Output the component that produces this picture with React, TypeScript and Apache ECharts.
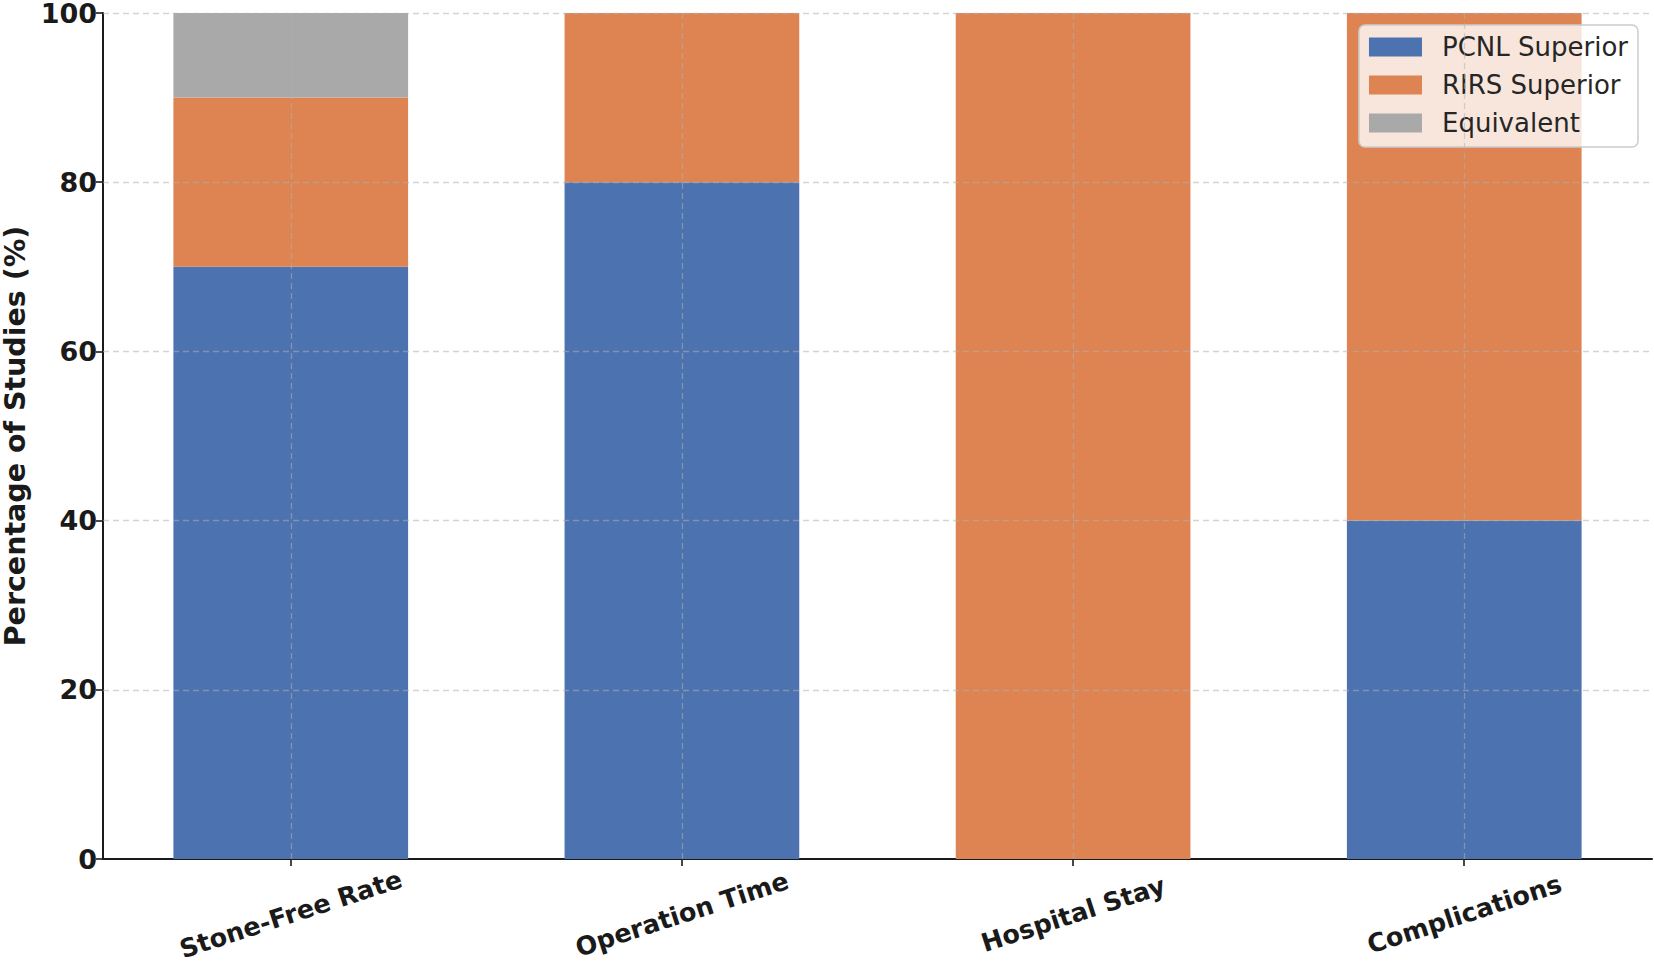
import React, { useEffect, useRef } from "react";
import * as echarts from "echarts";

const categories = ["Stone-Free Rate", "Operation Time", "Hospital Stay", "Complications"];
const pcnlSuperior = [70, 80, 0, 40];
const rirsSuperior = [20, 20, 100, 60];
const equivalent = [10, 0, 0, 0];
const yTicks = [0, 20, 40, 60, 80, 100];
const seriesNames = ["PCNL Superior", "RIRS Superior", "Equivalent"];
const colors = ["#4c72b0", "#dd8452", "#a9a9a9"];

const FONT = "DejaVu Sans";

// plot frame (matplotlib-like margins: bars of width 0.6, 5% margin)
const X_MIN = -0.48;
const X_MAX = 3.48;
const LEFT = 103;
const RIGHT = 2;
const TOP = 13;
const BOTTOM = 110;
const W = 1654;

export default function App() {
  const ref = useRef<HTMLDivElement>(null);

  useEffect(() => {
    if (!ref.current) return;
    const chart = echarts.init(ref.current, null, { renderer: "svg" });
    const idx = categories.map((_, i) => i);
    const unit = (W - LEFT - RIGHT) / (X_MAX - X_MIN);
    const barLeft = LEFT - (X_MIN + 0.5) * unit;
    const barRight = RIGHT - (categories.length - 0.5 - X_MAX) * unit;
    const gridStyle = { color: "rgba(176,176,176,0.55)", width: 1.3, type: [6, 4] as any };

    const seriesData = [pcnlSuperior, rirsSuperior, equivalent];
    const series: any[] = seriesData.map((arr, k) => ({
      name: seriesNames[k],
      type: "bar",
      stack: "total",
      barWidth: "60%",
      xAxisIndex: 0,
      yAxisIndex: 0,
      data: arr,
      itemStyle: { color: colors[k] },
      emphasis: { disabled: true },
    }));
    series.push({
      type: "line",
      name: "_grid",
      xAxisIndex: 1,
      yAxisIndex: 1,
      data: [],
      silent: true,
      showSymbol: false,
      markLine: {
        silent: true,
        symbol: "none",
        z: 5,
        label: { show: false },
        lineStyle: gridStyle,
        emphasis: { disabled: true },
        data: [
          ...idx.map((i) => ({ xAxis: i })),
          ...yTicks.filter((t) => t > 0).map((t) => ({ yAxis: t })),
        ],
      },
    });

    const axisCol = "#1a1a1a";

    chart.setOption({
      animation: false,
      textStyle: { fontFamily: FONT },
      grid: [
        { left: barLeft, right: barRight, top: TOP, bottom: BOTTOM, containLabel: false, outerBoundsMode: "none" },
        { left: LEFT, right: RIGHT, top: TOP, bottom: BOTTOM, containLabel: false, outerBoundsMode: "none" },
      ],
      legend: {
        data: seriesNames,
        orient: "vertical",
        right: 16,
        top: 25,
        icon: "rect",
        itemWidth: 53,
        itemHeight: 19,
        itemGap: 12,
        padding: [9, 10, 11, 10],
        backgroundColor: "rgba(255,255,255,0.8)",
        borderColor: "#cccccc",
        borderWidth: 1.5,
        borderRadius: 6,
        selectedMode: false,
        textStyle: {
          fontFamily: FONT,
          fontSize: 26,
          color: "#262626",
          padding: [0, 0, 0, 15],
        },
      },
      xAxis: [
        {
          type: "category",
          gridIndex: 0,
          data: categories,
          show: false,
        },
        {
          type: "value",
          gridIndex: 1,
          min: X_MIN,
          max: X_MAX,
          axisLine: { show: true, onZero: false, lineStyle: { color: axisCol, width: 2 } },
          axisTick: {
            show: true,
            customValues: idx,
            length: 7,
            lineStyle: { color: axisCol, width: 1.6 },
          },
          splitLine: { show: false },
          axisLabel: {
            customValues: idx,
            formatter: (v: number) => categories[Math.round(v)] ?? "",
            rotate: 18,
            align: "center",
            verticalAlign: "middle",
            margin: 55,
            fontFamily: FONT,
            fontSize: 25.5,
            fontWeight: "bold",
            color: axisCol,
          },
        },
      ],
      yAxis: [
        {
          type: "value",
          gridIndex: 0,
          min: 0,
          max: 100,
          show: false,
        },
        {
          type: "value",
          gridIndex: 1,
          min: 0,
          max: 100,
          interval: 20,
          name: "Percentage of Studies (%)",
          nameLocation: "middle",
          nameGap: 73,
          nameTextStyle: {
            fontFamily: FONT,
            fontSize: 28.5,
            fontWeight: "bold",
            color: axisCol,
          },
          axisLine: { show: true, onZero: false, lineStyle: { color: axisCol, width: 2 } },
          axisTick: { show: true, length: 7, lineStyle: { color: axisCol, width: 1.6 } },
          splitLine: { show: false },
          axisLabel: {
            margin: 6,
            fontFamily: FONT,
            fontSize: 27,
            fontWeight: "bold",
            color: axisCol,
          },
        },
      ],
      series,
    });
    return () => chart.dispose();
  }, []);

  return (
    <div
      ref={ref}
      style={{ position: "fixed", left: 0, top: 0, width: 1654, height: 969, background: "#fff" }}
    />
  );
}
